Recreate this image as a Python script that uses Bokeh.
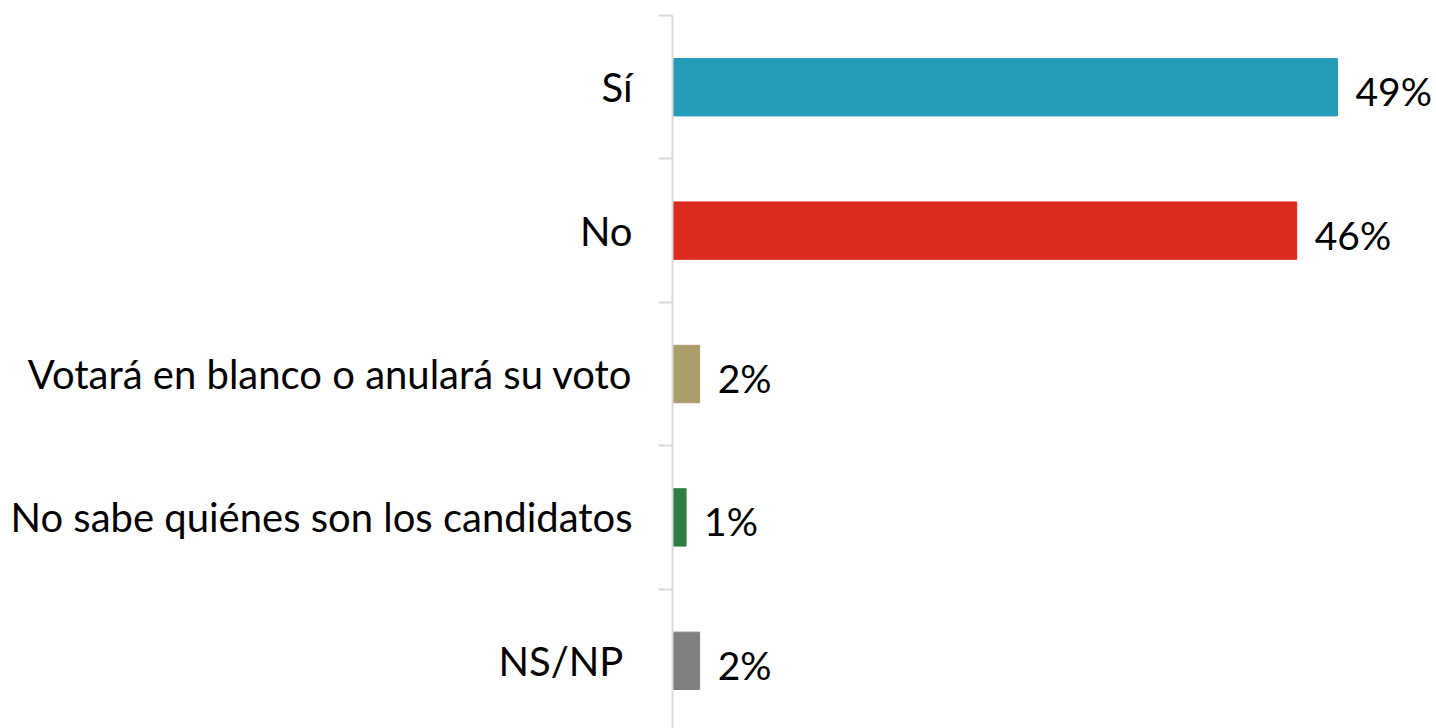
from bokeh.plotting import figure
from bokeh.models import ColumnDataSource, Range1d, FixedTicker, LinearAxis
from bokeh.embed import file_html
from bokeh.resources import INLINE
from bokeh.core.properties import value

categories = ["Sí", "No", "Votará en blanco o anulará su voto",
              "No sabe quiénes son los candidatos", "NS/NP\u00a0"]
values = [49, 46, 2, 1, 2]
labels = ["49%", "46%", "2%", "1%", "2%"]
colors = ["#259CBA", "#DC2A1F", "#AC9E6A", "#2E7E42", "#808080"]

n = len(categories)
ypos = [n - 1 - i for i in range(n)]

src = ColumnDataSource(dict(cat=categories, val=values, lab=labels,
                            col=colors, y=ypos))

FONT = "Lato"

p = figure(width=1436, height=728, output_backend="svg", toolbar_location=None,
           x_range=Range1d(0, 56.3), y_range=Range1d(-0.472, n - 0.5),
           x_axis_type=None, y_axis_type=None,
           min_border_left=672, min_border_right=0, min_border_top=15,
           min_border_bottom=0)
p.outline_line_color = None
p.grid.visible = False
p.background_fill_color = "white"

p.hbar(y="y", right="val", left=0, height=0.4, color="col", source=src)

p.text(x="val", y="y", text="lab", source=src, x_offset=18, y_offset=4,
       text_baseline="middle", text_align="left",
       text_font=value(FONT), text_font_size="39px", text_color="#000000")

ax = LinearAxis()
ax.ticker = FixedTicker(ticks=ypos,
                        minor_ticks=[i - 0.5 for i in range(n + 1)])
ax.major_label_overrides = {y: c for y, c in zip(ypos, categories)}
ax.major_tick_out = 0
ax.major_tick_in = 0
ax.minor_tick_out = 14
ax.minor_tick_in = 0
ax.minor_tick_line_color = "#d9d9d9"
ax.minor_tick_line_width = 2
ax.axis_line_color = "#d9d9d9"
ax.axis_line_width = 2
ax.major_label_standoff = 26
ax.major_label_text_font = FONT
ax.major_label_text_font_size = "40px"
ax.major_label_text_color = "#000000"
p.add_layout(ax, "left")

open("out.html", "w").write(file_html(p, INLINE))
